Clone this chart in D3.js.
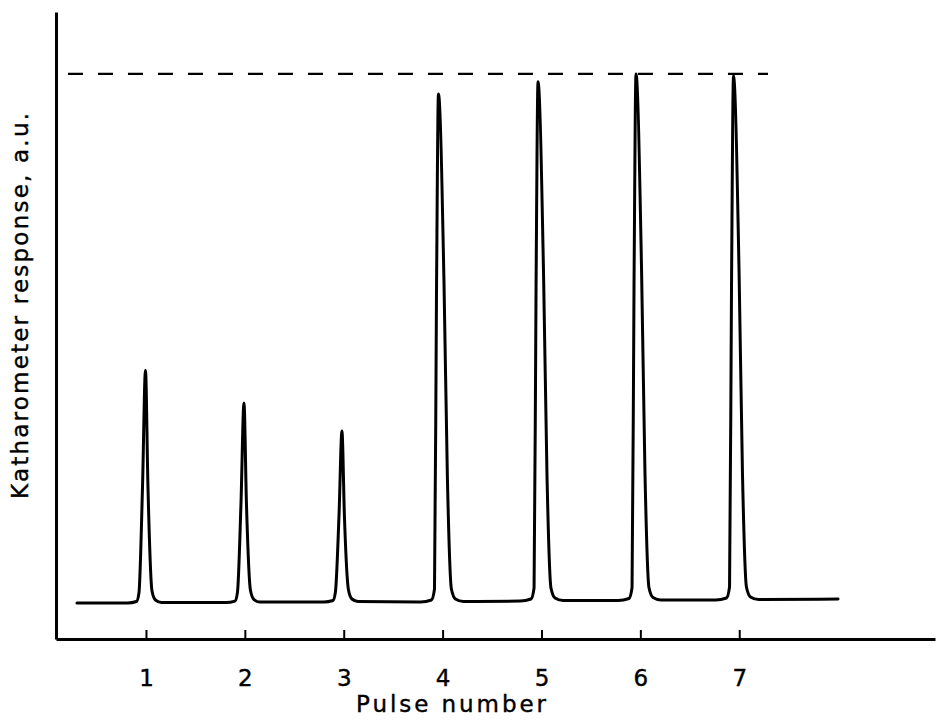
<!DOCTYPE html>
<html>
<head>
<meta charset="utf-8">
<script src="https://cdn.jsdelivr.net/npm/d3@7"></script>
<style>
  html, body { margin: 0; padding: 0; background: #fff; }
  svg { display: block; }
  text { font-family: "DejaVu Sans", sans-serif; fill: #000; }
</style>
</head>
<body>
<svg id="chart" width="941" height="720"></svg>
<script>
// ---- data ----
const pulseTicks = [1, 2, 3, 4, 5, 6, 7];
const tickLabels = ["1", "2", "3", "4", "5", "6", "7"];
const xAxisTitle = "Pulse number";
const yAxisTitle = "Katharometer response, a.u.";

// recorder trace: x in pulse number, y in arbitrary units (dashed level = 100)
const traceX = [
  0.302,
  0.813, 0.904, 0.929, 0.965, 0.995, 1.020, 1.061, 1.096, 1.157,
  1.809, 1.900, 1.925, 1.961, 1.991, 2.016, 2.057, 2.092, 2.153,
  2.800, 2.891, 2.916, 2.952, 2.982, 3.007, 3.048, 3.083, 3.144,
  3.776, 3.887, 3.918, 3.938, 3.958, 4.014, 4.049, 4.089, 4.130, 4.211,
  4.783, 4.894, 4.925, 4.945, 4.965, 5.021, 5.056, 5.096, 5.137, 5.218,
  5.774, 5.885, 5.916, 5.936, 5.956, 6.012, 6.047, 6.087, 6.128, 6.209,
  6.760, 6.871, 6.902, 6.922, 6.942, 6.998, 7.033, 7.073, 7.114, 7.195,
  7.999
];
const traceY = [
  0.00,
  0.00, 0.28, 1.89, 22.0, 44.0, 22.0, 2.27, 0.57, 0.09,
  0.09, 0.37, 1.98, 18.9, 37.8, 18.9, 2.36, 0.66, 0.18,
  0.19, 0.47, 2.08, 16.4, 32.5, 16.4, 2.46, 0.76, 0.28,
  0.19, 0.57, 2.65, 57.8, 96.2, 60.7, 23.2, 2.65, 0.76, 0.28,
  0.38, 0.76, 2.84, 59.2, 98.5, 62.2, 23.9, 2.84, 0.95, 0.47,
  0.47, 0.85, 2.93, 60.2, 100.0, 63.2, 24.4, 2.93, 1.04, 0.57,
  0.57, 0.95, 3.03, 60.0, 99.6, 63.0, 24.3, 3.03, 1.14, 0.66,
  0.76
];

// dashed reference level
const refLevel = [100];
const refExtent = [0.211, 7.291];

// ---- layout ----
const svg = d3.select("#chart");
const x = d3.scaleLinear().domain([0.09, 8.98]).range([56, 935]);
const y = d3.scaleLinear().domain([-6.8, 111.7]).range([639, 12]);

const ink = "#000";

// reference dashed line
svg.append("g").selectAll("line").data(refLevel).join("line")
  .attr("x1", x(refExtent[0])).attr("x2", x(refExtent[1]))
  .attr("y1", d => y(d)).attr("y2", d => y(d))
  .attr("stroke", ink).attr("stroke-width", 2.2)
  .attr("stroke-dasharray", "15,15");

// trace
const pts = traceX.map((v, i) => [v, traceY[i]]);
const line = d3.line()
  .x(d => x(d[0])).y(d => y(d[1]))
  .curve(d3.curveMonotoneX);
svg.append("path").datum(pts)
  .attr("d", line)
  .attr("fill", "none").attr("stroke", ink)
  .attr("stroke-width", 3)
  .attr("stroke-linejoin", "round").attr("stroke-linecap", "round");

// x axis
const xAxis = d3.axisBottom(x)
  .tickValues(pulseTicks)
  .tickFormat((d, i) => tickLabels[i])
  .tickSizeInner(-9).tickSizeOuter(0).tickPadding(31);
const gx = svg.append("g").attr("transform", `translate(0,${y.range()[0]})`).call(xAxis);
gx.select(".domain").attr("stroke", ink).attr("stroke-width", 3);
gx.selectAll(".tick line").attr("stroke", ink).attr("stroke-width", 2);
gx.selectAll(".tick text")
  .attr("font-family", "DejaVu Sans, sans-serif")
  .attr("font-size", 23).attr("fill", ink)
  .attr("stroke", ink).attr("stroke-width", 0.4);

// y axis (plain line, no ticks)
const yAxis = d3.axisLeft(y).tickValues([]).tickSizeOuter(0);
const gy = svg.append("g").attr("transform", `translate(${x.range()[0]},0)`).call(yAxis);
gy.select(".domain").attr("stroke", ink).attr("stroke-width", 3);

// axis titles
svg.append("text")
  .attr("x", 451).attr("y", 712)
  .attr("text-anchor", "middle")
  .attr("font-size", 23)
  .attr("stroke", ink).attr("stroke-width", 0.4)
  .attr("textLength", 190).attr("lengthAdjust", "spacing")
  .text(xAxisTitle);

svg.append("text")
  .attr("transform", "translate(28,306) rotate(-90)")
  .attr("text-anchor", "middle")
  .attr("font-size", 23)
  .attr("stroke", ink).attr("stroke-width", 0.4)
  .attr("textLength", 386).attr("lengthAdjust", "spacing")
  .text(yAxisTitle);
</script>
</body>
</html>
